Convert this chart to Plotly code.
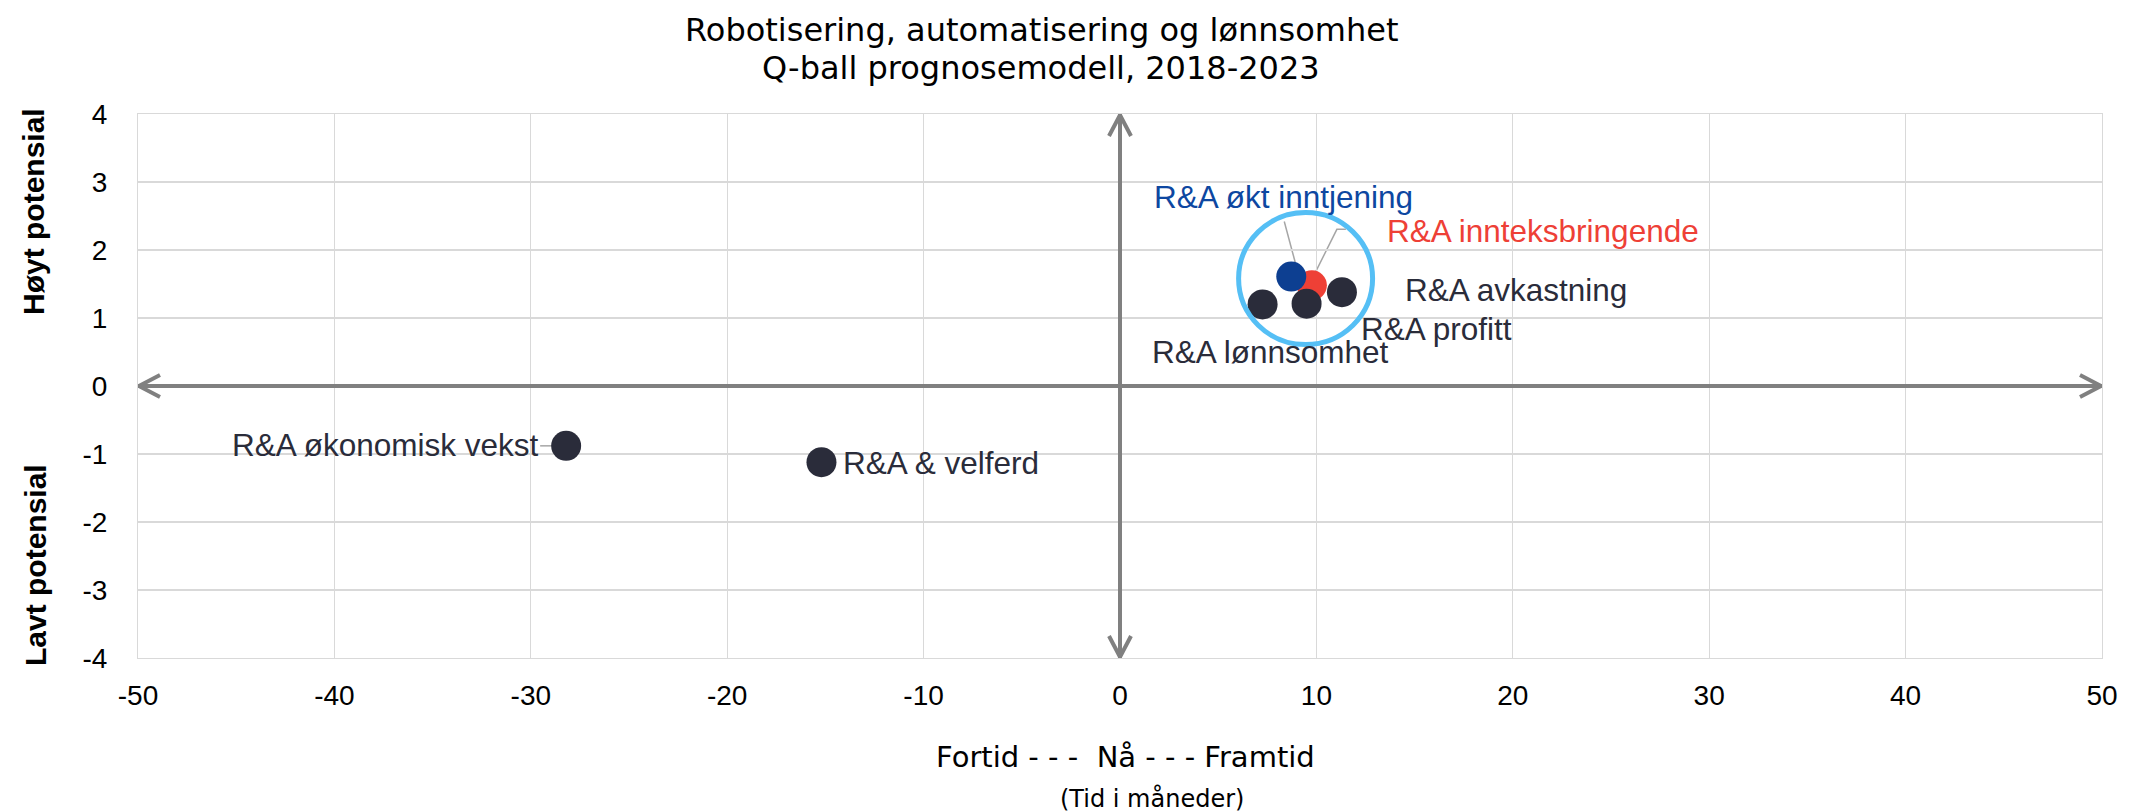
import plotly.graph_objects as go

# ---- data ----
labels = ["R&A økonomisk vekst", "R&A & velferd", "R&A innteksbringende", "R&A økt inntjening",
          "R&A lønnsomhet", "R&A profitt", "R&A avkastning"]
x_months = [-28.2, -15.2, 9.77, 8.72, 7.26, 9.50, 11.30]
y_potential = [-0.88, -1.12, 1.48, 1.61, 1.20, 1.21, 1.38]
point_colors = ["#2A2C3A", "#2A2C3A", "#EE4036", "#0D3F91", "#2A2C3A", "#2A2C3A", "#2A2C3A"]
label_colors = ["#2A2C3A", "#2A2C3A", "#EE4036", "#0D47A1", "#2A2C3A", "#2A2C3A", "#2A2C3A"]
x_ticks = [-50, -40, -30, -20, -10, 0, 10, 20, 30, 40, 50]
y_ticks = [-4, -3, -2, -1, 0, 1, 2, 3, 4]
x_range = [-50, 50]
y_range = [-4, 4]
title_lines = ["Robotisering, automatisering og lønnsomhet", "Q-ball prognosemodell, 2018-2023"]

# label placement (pixel offsets from each point), style only
label_style = [
    dict(xanchor="right", xshift=-25, yshift=1),
    dict(xanchor="left", xshift=20, yshift=-1),
    dict(xanchor="left", xshift=73, yshift=54),
    dict(xanchor="center", xshift=-8, yshift=80),
    dict(xanchor="left", xshift=-113, yshift=-48),
    dict(xanchor="left", xshift=52, yshift=-25),
    dict(xanchor="left", xshift=61, yshift=2),
]

ARROW = "#808080"
GRID = "#D9D9D9"
LAB_FONT = "Liberation Sans, Arial"

# page has an 8px body margin: figure is sized/offset to match page pixels
OFF = 8
W, H = 2146 - OFF, 812 - OFF
PX0, PX1, PY0, PY1 = 138, 2102, 114, 658  # plot area in page pixels


def px(X):
    return (X - PX0) / (PX1 - PX0)


def py(Y):
    return (PY1 - Y) / (PY1 - PY0)


fig = go.Figure()
fig.add_trace(go.Scatter(
    x=x_months, y=y_potential, mode="markers",
    marker=dict(size=30, color=point_colors, line=dict(width=0)),
    text=labels, hoverinfo="text", showlegend=False,
))

annotations = []
for xi, yi, lab, col, st in zip(x_months, y_potential, labels, label_colors, label_style):
    annotations.append(dict(
        x=xi, y=yi, xref="x", yref="y", text=lab, showarrow=False,
        font=dict(family=LAB_FONT, size=31.5, color=col),
        yanchor="middle", **st))

# titles and side labels
annotations += [
    dict(x=px(1041), y=py(30), xref="paper", yref="paper", text=title_lines[0],
         xanchor="center", yanchor="middle", showarrow=False,
         font=dict(family="DejaVu Sans", size=32, color="#000000")),
    dict(x=px(1041), y=py(68), xref="paper", yref="paper", text=title_lines[1],
         xanchor="center", yanchor="middle", showarrow=False,
         font=dict(family="DejaVu Sans", size=32, color="#000000")),
    dict(x=px(33), y=py(212), xref="paper", yref="paper", text="<b>Høyt potensial</b>", textangle=-90,
         xanchor="center", yanchor="middle", showarrow=False,
         font=dict(family=LAB_FONT, size=30, color="#000000")),
    dict(x=px(35), y=py(565), xref="paper", yref="paper", text="<b>Lavt potensial</b>", textangle=-90,
         xanchor="center", yanchor="middle", showarrow=False,
         font=dict(family=LAB_FONT, size=30, color="#000000")),
    dict(x=px(1125), y=py(757), xref="paper", yref="paper",
         text="Fortid - - -\u00a0\u00a0Nå - - - Framtid", showarrow=False,
         xanchor="center", yanchor="middle",
         font=dict(family="DejaVu Sans", size=29, color="#000000")),
    dict(x=px(1152), y=py(798), xref="paper", yref="paper",
         text="(Tid i måneder)", showarrow=False, xanchor="center", yanchor="middle",
         font=dict(family="DejaVu Sans", size=24, color="#000000")),
]

shapes = []
# quadrant arrows
shapes.append(dict(type="line", xref="x", yref="y", x0=x_range[0], x1=x_range[1], y0=0, y1=0,
                   line=dict(color=ARROW, width=4), layer="above"))
shapes.append(dict(type="line", xref="x", yref="y", x0=0, x1=0, y0=y_range[0], y1=y_range[1],
                   line=dict(color=ARROW, width=4), layer="above"))
heads = [
    (x_range[0], 0, "M 22,11 L 1,0 L 22,-11"),
    (x_range[1], 0, "M -22,11 L -1,0 L -22,-11"),
    (0, y_range[1], "M -11,-22 L 0,-1 L 11,-22"),
    (0, y_range[0], "M -11,22 L 0,1 L 11,22"),
]
for ax_, ay_, p in heads:
    shapes.append(dict(type="path", xref="x", yref="y", xsizemode="pixel", ysizemode="pixel",
                       xanchor=ax_, yanchor=ay_, path=p,
                       line=dict(color=ARROW, width=4), layer="above"))
# leader lines (pixel offsets from points)
leaders = [
    (0, "M -13,0 L -26,0"),
    (3, "M -7,55 L 4,14"),
    (2, "M 34,56 L 25,56 L 3,12"),
]
for idx, p in leaders:
    shapes.append(dict(type="path", xref="x", yref="y", xsizemode="pixel", ysizemode="pixel",
                       xanchor=x_months[idx], yanchor=y_potential[idx], path=p,
                       line=dict(color="#A6A6A6", width=1.5), layer="below"))
# highlight ring around the cluster
shapes.append(dict(type="circle", xref="x", yref="y", xsizemode="pixel", ysizemode="pixel",
                   xanchor=9.45, yanchor=1.58, x0=-67, x1=67, y0=-66, y1=66,
                   line=dict(color="#55BFF5", width=5), layer="above"))

fig.update_layout(
    width=W, height=H,
    margin=dict(l=PX0 - OFF, r=W - (PX1 - OFF), t=PY0 - OFF, b=H - (PY1 - OFF)),
    paper_bgcolor="white", plot_bgcolor="white",
    xaxis=dict(range=x_range, tickvals=x_ticks, ticktext=[str(v) for v in x_ticks],
               showgrid=True, gridcolor=GRID, gridwidth=1,
               zeroline=False, showline=True, linecolor=GRID, linewidth=1, mirror=True,
               ticks="", ticklabelstandoff=12,
               tickfont=dict(family=LAB_FONT, size=28, color="#000000"),
               fixedrange=True),
    yaxis=dict(range=y_range, tickvals=y_ticks, ticktext=[str(v) for v in y_ticks],
               showgrid=True, gridcolor=GRID, gridwidth=2,
               zeroline=False, showline=True, linecolor=GRID, linewidth=1, mirror=True,
               ticks="", ticklabelstandoff=24,
               tickfont=dict(family=LAB_FONT, size=28, color="#000000"),
               fixedrange=True),
    annotations=annotations,
    shapes=shapes,
)

fig.write_html("out.html")
